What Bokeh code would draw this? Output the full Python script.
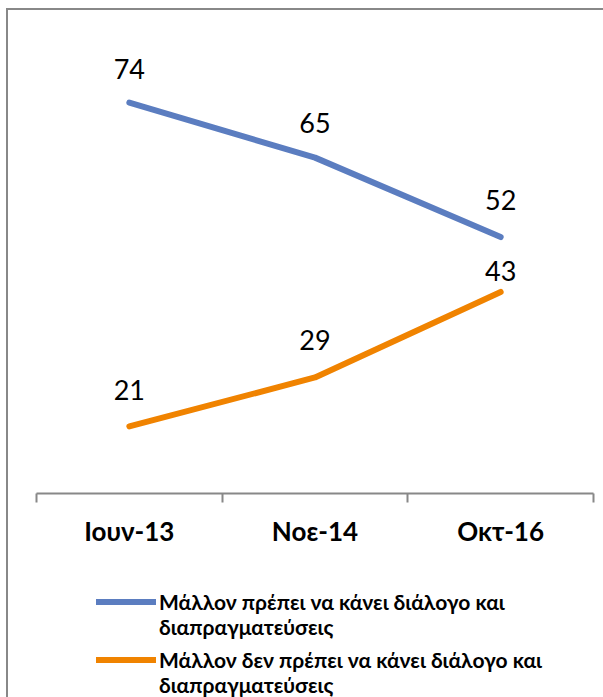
from bokeh.plotting import figure
from bokeh.layouts import column
from bokeh.models import Range1d, FixedTicker, Legend, LegendItem, ColumnDataSource
from bokeh.core.properties import value
from bokeh.embed import file_html
from bokeh.resources import INLINE

categories = ["Ιουν-13", "Νοε-14", "Οκτ-16"]
series_names = [
    ["Μάλλον πρέπει να κάνει διάλογο και", "διαπραγματεύσεις"],
    ["Μάλλον δεν πρέπει να κάνει διάλογο και", "διαπραγματεύσεις"],
]
yes_values = [74, 65, 52]
no_values = [21, 29, 43]
colors = ["#5B7DC0", "#F08300"]
yes_label_offsets = [-34, -35, -37]
no_label_offsets = [-36, -37, -21]

xs = [i + 0.5 for i in range(len(categories))]
boundaries = list(range(len(categories) + 1))

p = figure(width=595, height=570, output_backend="svg", toolbar_location=None,
           x_range=Range1d(0, len(categories)), y_range=Range1d(10, 85),
           min_border_left=28, min_border_right=10, min_border_top=25,
           min_border_bottom=87)
p.outline_line_color = None
p.xgrid.visible = False
p.ygrid.visible = False
p.yaxis.visible = False

ax = p.xaxis[0]
ax.ticker = FixedTicker(ticks=xs, minor_ticks=boundaries)
ax.major_label_overrides = {x: c for x, c in zip(xs, categories)}
ax.axis_line_color = "#888888"
ax.axis_line_width = 2
ax.major_tick_line_color = None
ax.major_tick_out = 0
ax.major_tick_in = 0
ax.minor_tick_line_color = "#888888"
ax.minor_tick_line_width = 2
ax.minor_tick_out = 9
ax.minor_tick_in = 0
ax.major_label_text_font = "Lato"
ax.major_label_text_font_style = "bold"
ax.major_label_text_font_size = "26px"
ax.major_label_text_color = "#000000"
ax.major_label_standoff = 12

p.line(xs, yes_values, line_width=6, line_color=colors[0], line_cap="round", line_join="round")
p.line(xs, no_values, line_width=6, line_color=colors[1], line_cap="round", line_join="round")

for vals, offs in ((yes_values, yes_label_offsets), (no_values, no_label_offsets)):
    src = ColumnDataSource(dict(x=xs, y=vals, t=[str(v) for v in vals], off=offs))
    p.text(x="x", y="y", text="t", y_offset="off", source=src, text_align="center",
           text_baseline="alphabetic", text_font=value("Lato"), text_font_size="27px",
           text_color="#000000")

# legend strip (swatch renderers sit outside the visible range)
lg = figure(width=595, height=117, output_backend="svg", toolbar_location=None,
            x_range=Range1d(0, 1), y_range=Range1d(0, 1),
            min_border_left=0, min_border_right=0, min_border_top=0, min_border_bottom=0)
lg.outline_line_color = None
lg.xaxis.visible = False
lg.yaxis.visible = False
lg.xgrid.visible = False
lg.ygrid.visible = False

legend_y = [58, 0]
for name_lines, color, ly in zip(series_names, colors, legend_y):
    sw = lg.line([5, 6], [5, 6], line_width=6, line_color=color, line_cap="round")
    blank = lg.line([5, 6], [5, 6], line_width=6, line_color=color, line_alpha=0)
    leg = Legend(items=[LegendItem(label=name_lines[0], renderers=[sw]),
                        LegendItem(label=name_lines[1], renderers=[blank])],
                 location=(60, ly), padding=0, margin=0, spacing=0,
                 glyph_width=60, glyph_height=25, label_standoff=3,
                 label_height=25,
                 label_text_font="Lato", label_text_font_style="bold",
                 label_text_font_size="21px",
                 label_text_color="#000000",
                 border_line_color=None, background_fill_alpha=0)
    lg.add_layout(leg, "center")

layout = column(p, lg, spacing=0)
layout.styles = {"margin-left": "6px", "margin-top": "8px",
                 "border-left": "2px solid #888888", "border-top": "2px solid #888888"}

open("out.html", "w").write(file_html(layout, INLINE))
